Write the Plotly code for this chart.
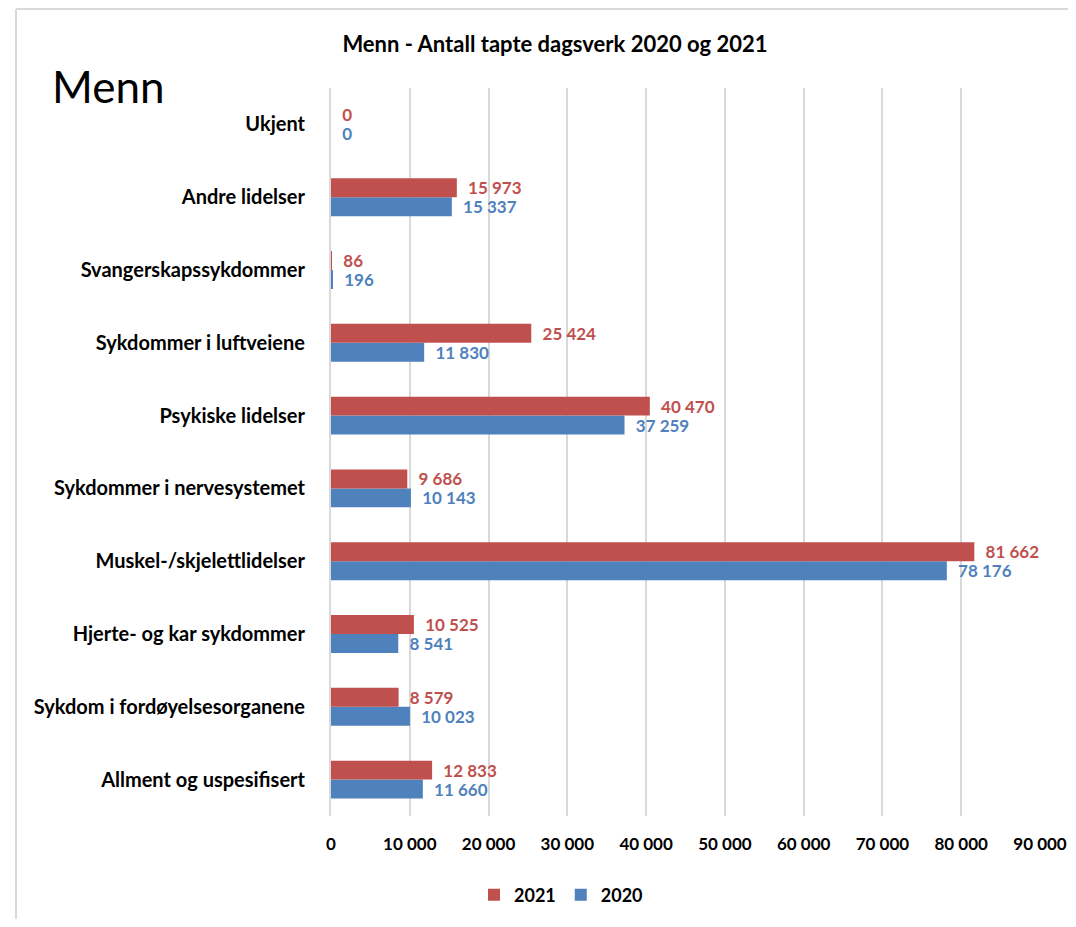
import plotly.graph_objects as go

# categories, bottom to top
categories = [
    'Allment og uspesifisert',
    'Sykdom i fordøyelsesorganene',
    'Hjerte- og kar sykdommer',
    'Muskel-/skjelettlidelser',
    'Sykdommer i nervesystemet',
    'Psykiske lidelser',
    'Sykdommer i luftveiene',
    'Svangerskapssykdommer',
    'Andre lidelser',
    'Ukjent',
]
values_2020 = [11660, 10023, 8541, 78176, 10143, 37259, 11830, 196, 15337, 0]
values_2021 = [12833, 8579, 10525, 81662, 9686, 40470, 25424, 86, 15973, 0]
x_ticks = [0, 10000, 20000, 30000, 40000, 50000, 60000, 70000, 80000, 90000]

RED = '#C0504D'
BLUE = '#4F81BD'
FONT = 'Lato'

# the page puts the figure 8px in from the top/left of the window
OFF = 8
FW, FH = 1076 - 2 * OFF, 927 - 2 * OFF


def fmt(v):
    return f'{v:,}'.replace(',', '\u00a0')


fig = go.Figure()
for name, vals, color in [('2020', values_2020, BLUE), ('2021', values_2021, RED)]:
    fig.add_trace(go.Bar(
        y=categories, x=vals, name=name, orientation='h',
        marker={'color': color, 'line': {'width': 0}},
        text=['\u00a0\u00a0' + fmt(v) for v in vals], textposition='outside',
        constraintext='none',
        textfont={'color': color, 'size': 17, 'family': FONT, 'weight': 'bold'},
        cliponaxis=False,
    ))

# plot area in window pixels: x 331..1040, y 88..816
L, R, T, B = 331 - OFF, 1040 - OFF, 88 - OFF, 816 - OFF
W, H = R - L, B - T


def px(x):
    return (x - OFF - L) / W


def py(y):
    return (B - (y - OFF)) / H


fig.update_layout(
    width=FW, height=FH,
    margin={'l': L, 'r': FW - R, 't': T, 'b': FH - B, 'pad': 0, 'autoexpand': False},
    paper_bgcolor='white', plot_bgcolor='white',
    barmode='group', bargap=0.48, bargroupgap=0,
    font={'family': FONT, 'color': '#000000'},
    title={'text': 'Menn - Antall tapte dagsverk 2020 og 2021', 'x': (555 - OFF) / FW, 'xanchor': 'center',
           'y': 1 - (44 - OFF) / FH, 'yanchor': 'middle', 'font': {'size': 22, 'weight': 'bold'}},
    legend={'orientation': 'h', 'traceorder': 'reversed', 'x': px(561), 'xanchor': 'center',
            'y': py(895), 'yanchor': 'middle', 'font': {'size': 18, 'weight': 'bold'}},
    showlegend=True,
)
fig.update_xaxes(
    range=[0, 90000], tickvals=x_ticks, ticktext=[fmt(v) for v in x_ticks],
    showgrid=True, gridcolor='#D9D9D9', gridwidth=2, zeroline=False, showline=False,
    ticks='', ticklabelstandoff=16, tickfont={'size': 17, 'weight': 'bold'}, automargin=False,
)
fig.update_yaxes(
    showline=True, linecolor='#D9D9D9', linewidth=2, showgrid=False, ticks='',
    ticklabelstandoff=20, tickfont={'size': 20, 'weight': 'bold'}, automargin=False,
)

fig.add_annotation(text='Menn', xref='paper', yref='paper', x=px(50), y=py(86),
                   xanchor='left', yanchor='middle', showarrow=False,
                   font={'size': 44, 'family': FONT})

# frame lines at top and left
right_edge = px(OFF + FW)
bottom_edge = py(OFF + FH)
fig.add_shape(type='line', xref='paper', yref='paper', x0=px(16), x1=right_edge, y0=py(9), y1=py(9),
              line={'color': '#D9D9D9', 'width': 2})
fig.add_shape(type='line', xref='paper', yref='paper', x0=px(16), x1=px(16), y0=py(9), y1=bottom_edge,
              line={'color': '#D9D9D9', 'width': 2})

fig.write_html('out.html')
